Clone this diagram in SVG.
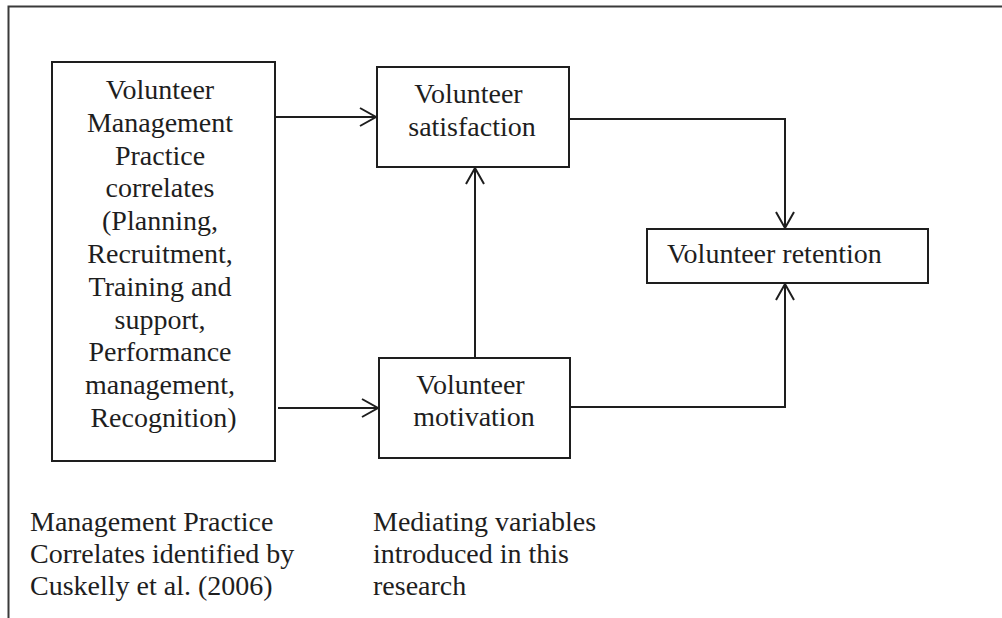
<svg xmlns="http://www.w3.org/2000/svg" width="1002" height="618" viewBox="0 0 1002 618">
  <style>
    .box { fill: #ffffff; stroke: #1e1e1e; stroke-width: 2; }
    .frame { fill: none; stroke: #3a3a3a; stroke-width: 2; }
    .link { fill: none; stroke: #1e1e1e; stroke-width: 2; }
    .label { font-family: "Liberation Serif", "Times New Roman", serif; font-size: 28px; fill: #1e1e1e; }
    .mid { text-anchor: middle; }
  </style>
  <defs>
    <marker id="arrow" markerUnits="userSpaceOnUse" markerWidth="22" markerHeight="22" refX="17" refY="10" orient="auto">
      <path d="M1,1 L17,10 L1,19" fill="none" stroke="#1e1e1e" stroke-width="2"/>
    </marker>
  </defs>

  <rect width="1002" height="618" fill="#ffffff"/>
  <!-- outer frame: top edge and left edge -->
  <path class="frame" d="M1002,6.5 H8.5 V618"/>

  <g id="connectors">
    <path class="link" d="M275,117 H376" marker-end="url(#arrow)"/>
    <path class="link" d="M278,408 H378" marker-end="url(#arrow)"/>
    <path class="link" d="M475,358 V168" marker-end="url(#arrow)"/>
    <path class="link" d="M569,119 H785 V228" marker-end="url(#arrow)"/>
    <path class="link" d="M570,407 H785 V284" marker-end="url(#arrow)"/>
  </g>

  <g id="management-practices">
    <rect class="box" x="52" y="62" width="223" height="399"/>
    <text class="label mid">
      <tspan x="163.5" y="99">Volunteer</tspan>
      <tspan x="163.5" y="131.8">Management</tspan>
      <tspan x="163.5" y="164.6">Practice</tspan>
      <tspan x="163.5" y="197.4">correlates</tspan>
      <tspan x="163.5" y="230.2">(Planning,</tspan>
      <tspan x="163.5" y="263">Recruitment,</tspan>
      <tspan x="163.5" y="295.8">Training and</tspan>
      <tspan x="163.5" y="328.6">support,</tspan>
      <tspan x="163.5" y="361.4">Performance</tspan>
      <tspan x="163.5" y="394.2">management,</tspan>
      <tspan x="163.5" y="427">Recognition)</tspan>
    </text>
  </g>

  <g id="satisfaction">
    <rect class="box" x="377" y="67" width="192" height="100"/>
    <text class="label mid">
      <tspan x="472" y="103">Volunteer</tspan>
      <tspan x="472" y="136">satisfaction</tspan>
    </text>
  </g>

  <g id="motivation">
    <rect class="box" x="379" y="358" width="191" height="100"/>
    <text class="label mid">
      <tspan x="474" y="394">Volunteer</tspan>
      <tspan x="474" y="426">motivation</tspan>
    </text>
  </g>

  <g id="retention">
    <rect class="box" x="647" y="229" width="281" height="54"/>
    <text class="label" x="667" y="263">Volunteer retention</text>
  </g>

  <g id="note-correlates">
    <text class="label">
      <tspan x="30" y="531">Management Practice</tspan>
      <tspan x="30" y="563">Correlates identified by</tspan>
      <tspan x="30" y="595">Cuskelly et al. (2006)</tspan>
    </text>
  </g>

  <g id="note-mediating">
    <text class="label">
      <tspan x="373" y="531">Mediating variables</tspan>
      <tspan x="373" y="563">introduced in this</tspan>
      <tspan x="373" y="595">research</tspan>
    </text>
  </g>
</svg>
